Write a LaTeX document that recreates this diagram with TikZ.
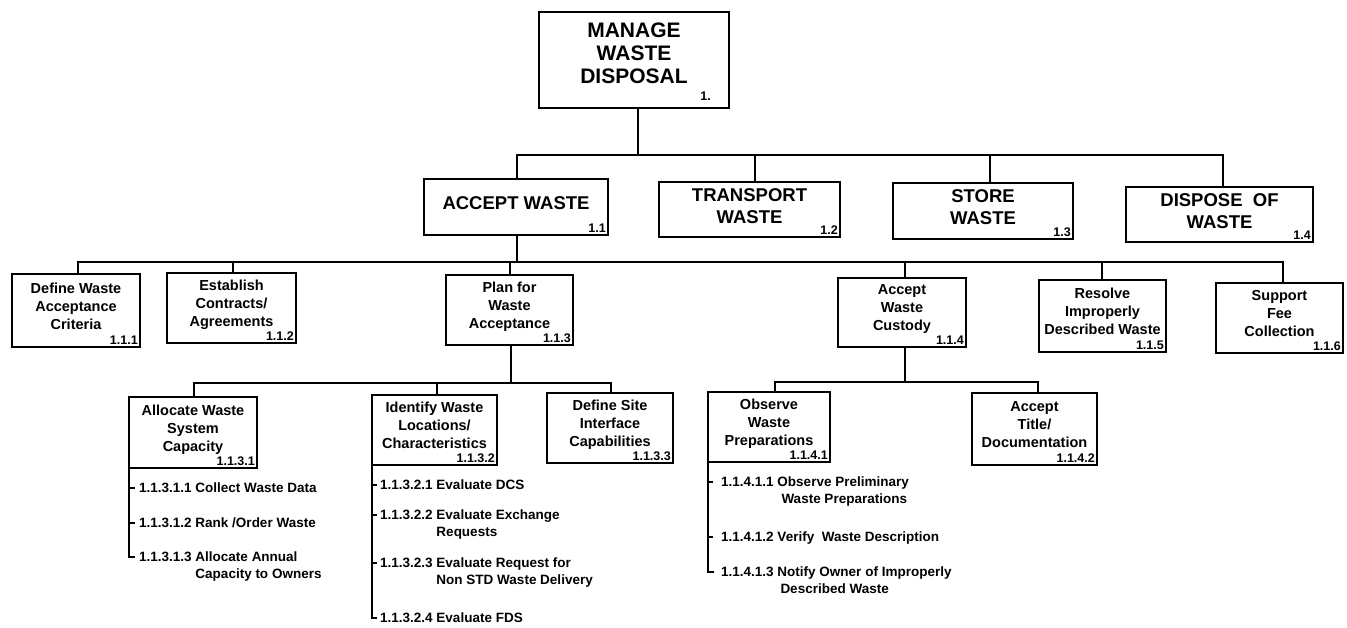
\documentclass[tikz,border=0pt]{standalone}
\usepackage{fontspec}
\setmainfont{Liberation Sans}
\begin{document}
\begin{tikzpicture}[x=1pt,y=-1pt,
  box/.style={draw, line width=2.8pt, outer sep=0pt, inner sep=2pt, align=center},
  topbox/.style={box, text depth=14pt, font=\fontsize{21}{23}\selectfont\bfseries},
  lvone/.style={box, text depth=7pt, font=\fontsize{18.5}{22}\selectfont\bfseries},
  lvtwo/.style={box, text depth=9pt, font=\fontsize{14.5}{18}\selectfont\bfseries},
  numlbl/.style={anchor=south east, inner sep=2pt, font=\fontsize{12.5}{13}\selectfont\bfseries},
  item/.style={anchor=base west, inner sep=0pt, font=\fontsize{13.5}{17}\selectfont\bfseries},
  link/.style={line width=2.4pt},
  bus/.style={line width=2.4pt, line cap=rect},
  rail/.style={line width=2.2pt},
]
\useasboundingbox (0,0) rectangle (1347,627);

% a boxed function with its number in the lower right corner
\newcommand\fnbox[7]{%
  \node[#1, minimum width=#4pt, minimum height=#5pt] (#2) at (#3) {#6};
  \node[numlbl] (#2-num) at (#2.south east) {#7};}
% vertical stem from a bus line down to a box
\newcommand\stemdown[3]{\draw[link] ([xshift=#2pt]#1.north |- #3) -- ([xshift=#2pt]#1.north);}
% vertical stem from a box down to a bus line
\newcommand\stemup[3]{\draw[link] ([xshift=#2pt]#1.south) -- ([xshift=#2pt]#1.south |- #3);}
% short tick from a box's left rail to a list item
\newcommand\railtick[3]{\draw[rail] ([yshift=4.7pt]#1.south west |- #2.base west) -- ([xshift=#3pt,yshift=4.7pt]#1.south west |- #2.base west);}

% ---- level 0
\fnbox{topbox}{top}{634,60}{190}{96}{MANAGE\\WASTE\\DISPOSAL}{}
\node[inner sep=0pt, anchor=south east, font=\fontsize{12.5}{13}\selectfont\bfseries] (top-n) at ([xshift=-18pt,yshift=7pt]top.south east) {1.};

% ---- level 1
\fnbox{lvone}{acc}{516,207}{184}{56}{ACCEPT WASTE}{1.1}
\fnbox{lvone}{tra}{749.5,209.5}{181}{55}{TRANSPORT\\WASTE}{1.2}
\fnbox{lvone}{sto}{983,211}{180}{56}{STORE\\WASTE}{1.3}
\fnbox{lvone}{dis}{1219.5,214.5}{187}{55}{DISPOSE\ \ OF\\WASTE}{1.4}

% ---- level 2
\fnbox{lvtwo}{d111}{76,310.5}{128}{73}{Define Waste\\Acceptance\\Criteria}{1.1.1}
\fnbox{lvtwo}{d112}{231.5,308}{129}{70}{Establish\\Contracts/\\Agreements}{1.1.2}
\fnbox{lvtwo}{d113}{509.5,310}{127}{70}{Plan for\\Waste\\Acceptance}{1.1.3}
\fnbox{lvtwo}{d114}{902,312.5}{128}{69}{Accept\\Waste\\Custody}{1.1.4}
\fnbox{lvtwo}{d115}{1102.5,316}{127}{72}{Resolve\\Improperly\\Described Waste}{1.1.5}
\fnbox{lvtwo}{d116}{1279.5,318}{127}{70}{Support\\Fee\\Collection}{1.1.6}

% ---- level 3
\fnbox{lvtwo}{d1131}{193,432.5}{128}{71}{Allocate Waste\\System\\Capacity}{1.1.3.1}
\fnbox{lvtwo}{d1132}{434.5,430}{125}{70}{Identify Waste\\Locations/\\Characteristics}{1.1.3.2}
\fnbox{lvtwo}{d1133}{610,428}{126}{70}{Define Site\\Interface\\Capabilities}{1.1.3.3}
\fnbox{lvtwo}{d1141}{769,427}{122}{70}{Observe\\Waste\\Preparations}{1.1.4.1}
\fnbox{lvtwo}{d1142}{1034.5,429}{125}{72}{Accept\\Title/\\Documentation}{1.1.4.2}

% ---- level 4 lists
\node[item] (i11311) at (139,492.7) {1.1.3.1.1 Collect Waste Data};
\node[item] (i11312) at (139,527.7) {1.1.3.1.2 Rank /Order Waste};
\node[item] (i11313) at (139,561.7) {1.1.3.1.3 \begin{tabular}[t]{@{}l@{}}Allocate Annual\\Capacity to Owners\end{tabular}};

\node[item] (i11321) at (380,489.7) {1.1.3.2.1 Evaluate DCS};
\node[item] (i11322) at (380,519.7) {1.1.3.2.2 \begin{tabular}[t]{@{}l@{}}Evaluate Exchange\\Requests\end{tabular}};
\node[item] (i11323) at (380,567.7) {1.1.3.2.3 \begin{tabular}[t]{@{}l@{}}Evaluate Request for\\Non STD Waste Delivery\end{tabular}};
\node[item] (i11324) at (380,622.7) {1.1.3.2.4 Evaluate FDS};

\node[item] (i11411) at (721,486.7) {1.1.4.1.1 \begin{tabular}[t]{@{}l@{}}Observe Preliminary\\\hspace{4pt}Waste Preparations\end{tabular}};
\node[item] (i11412) at (721,541.7) {1.1.4.1.2 Verify\ \ Waste Description};
\node[item] (i11413) at (721,576.7) {1.1.4.1.3 \begin{tabular}[t]{@{}l@{}}Notify Owner of Improperly\\\hspace{3pt}Described Waste\end{tabular}};

% ---- connectors, level 0 to 1
\coordinate (bus1) at (0,155);
\stemup{top}{4}{bus1}
\draw[bus] ([xshift=1pt]acc.north |- bus1) -- ([xshift=3.5pt]dis.north |- bus1);
\stemdown{acc}{1}{bus1}
\stemdown{tra}{5.5}{bus1}
\stemdown{sto}{7}{bus1}
\stemdown{dis}{3.5}{bus1}

% ---- level 1 to 2
\coordinate (bus2) at (0,262);
\stemup{acc}{1}{bus2}
\draw[bus] ([xshift=2pt]d111.north |- bus2) -- ([xshift=3.5pt]d116.north |- bus2);
\stemdown{d111}{2}{bus2}
\stemdown{d112}{1.5}{bus2}
\stemdown{d113}{0.5}{bus2}
\stemdown{d114}{3}{bus2}
\stemdown{d115}{-0.5}{bus2}
\stemdown{d116}{3.5}{bus2}

% ---- 1.1.3 to its children
\coordinate (bus3) at (0,383);
\stemup{d113}{1.5}{bus3}
\draw[bus] ([xshift=1pt]d1131.north |- bus3) -- ([xshift=1pt]d1133.north |- bus3);
\stemdown{d1131}{1}{bus3}
\stemdown{d1132}{2.5}{bus3}
\stemdown{d1133}{1}{bus3}

% ---- 1.1.4 to its children
\coordinate (bus4) at (0,382);
\stemup{d114}{3}{bus4}
\draw[bus] ([xshift=6pt]d1141.north |- bus4) -- ([xshift=3.5pt]d1142.north |- bus4);
\stemdown{d1141}{6}{bus4}
\stemdown{d1142}{3.5}{bus4}

% ---- list rails
\draw[rail] (d1131.south west) -- ([yshift=4.7pt]d1131.south west |- i11313.base west) -- ([xshift=6pt,yshift=4.7pt]d1131.south west |- i11313.base west);
\railtick{d1131}{i11311}{6}
\railtick{d1131}{i11312}{6}

\draw[rail] (d1132.south west) -- ([yshift=4.7pt]d1132.south west |- i11324.base west) -- ([xshift=5pt,yshift=4.7pt]d1132.south west |- i11324.base west);
\railtick{d1132}{i11321}{5}
\railtick{d1132}{i11322}{5}
\railtick{d1132}{i11323}{5}

\draw[rail] (d1141.south west) -- ([yshift=4.7pt]d1141.south west |- i11413.base west) -- ([xshift=6pt,yshift=4.7pt]d1141.south west |- i11413.base west);
\railtick{d1141}{i11411}{5}
\railtick{d1141}{i11412}{5}
\end{tikzpicture}
\end{document}
